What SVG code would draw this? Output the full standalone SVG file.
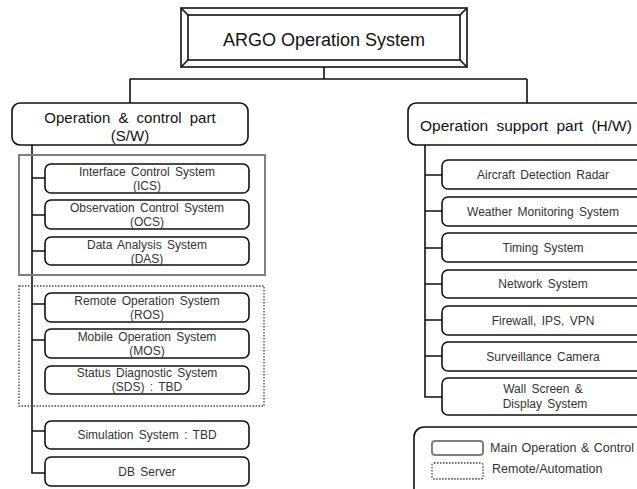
<svg xmlns="http://www.w3.org/2000/svg" width="637" height="489" viewBox="0 0 637 489">
<style>
text{font-family:"Liberation Sans",Arial,sans-serif;text-anchor:middle;dominant-baseline:central}
.hdr{font-size:15px;fill:#111;word-spacing:4px}
.hdr2{font-size:15.5px;fill:#111;word-spacing:4px}
.t{font-size:12px;fill:#333;word-spacing:2px}
.lg{font-size:12.5px;fill:#333;text-anchor:start;word-spacing:1px}
.box{fill:#fff;stroke:#111;stroke-width:1.6}
.c{stroke:#111;stroke-width:1.6;fill:none}
.grp{fill:none;stroke:#808080;stroke-width:2}
.dot{fill:none;stroke:#444;stroke-width:1.3;stroke-dasharray:1.5 1.5}
</style>
<rect width="637" height="489" fill="#fff"/>
<g id="connectors">
<path class="c" d="M324 67V79M130 79H527M130 79V103M527 79V103"/>
<path class="c" d="M32 145V473H45M32 178H45M32 215H45M32 251H45M32 304H45M32 340H45M32 431H45"/>
<path class="c" d="M425 145V397H442M425 175H442M425 211H442M425 248H442M425 284H442M425 320H442M425 356H442"/>
</g>
<g id="groups">
<rect class="grp" x="19" y="155" width="246" height="120"/>
<rect class="dot" x="19" y="286" width="245" height="120"/>
</g>
<g id="title">
<rect x="181" y="8" width="286" height="59" fill="#fff" stroke="#111" stroke-width="1.6"/>
<rect x="188" y="15" width="272" height="45" fill="#fff" stroke="#111" stroke-width="1.6"/>
<path class="c" d="M181 8L188 15M467 8L460 15M181 67L188 60M467 67L460 60"/>
<text x="324" y="40" style="font-size:18px;fill:#111">ARGO Operation System</text>
</g>
<g id="sw">
<rect class="box" x="12" y="103" width="236" height="42" rx="8"/>
<text class="hdr" x="130" y="117">Operation &amp; control part</text>
<text class="hdr" x="130" y="135">(S/W)</text>
</g>
<g id="ics"><rect class="box" x="45" y="164" width="204" height="29" rx="6"/><text class="t" x="147" y="172">Interface Control System</text><text class="t" x="147" y="186">(ICS)</text></g>
<g id="ocs"><rect class="box" x="45" y="200" width="204" height="29" rx="6"/><text class="t" x="147" y="208">Observation Control System</text><text class="t" x="147" y="222">(OCS)</text></g>
<g id="das"><rect class="box" x="45" y="237" width="204" height="28" rx="6"/><text class="t" x="147" y="245">Data Analysis System</text><text class="t" x="147" y="259">(DAS)</text></g>
<g id="ros"><rect class="box" x="45" y="293" width="204" height="29" rx="6"/><text class="t" x="147" y="301">Remote Operation System</text><text class="t" x="147" y="315">(ROS)</text></g>
<g id="mos"><rect class="box" x="45" y="329" width="204" height="29" rx="6"/><text class="t" x="147" y="337">Mobile Operation System</text><text class="t" x="147" y="351">(MOS)</text></g>
<g id="sds"><rect class="box" x="45" y="366" width="204" height="28" rx="6"/><text class="t" x="147" y="373">Status Diagnostic System</text><text class="t" x="147" y="387">(SDS) : TBD</text></g>
<g id="sim"><rect class="box" x="45" y="421" width="204" height="28" rx="6"/><text class="t" x="147" y="435">Simulation System : TBD</text></g>
<g id="db"><rect class="box" x="45" y="457" width="204" height="29" rx="6"/><text class="t" x="147" y="472">DB Server</text></g>
<g id="hw">
<rect class="box" x="408" y="103" width="240" height="42" rx="8"/>
<text class="hdr2" x="526" y="125">Operation support part (H/W)</text>
</g>
<g id="radar"><rect class="box" x="442" y="160" width="202" height="29" rx="6"/><text class="t" x="543" y="175">Aircraft Detection Radar</text></g>
<g id="weather"><rect class="box" x="442" y="197" width="202" height="29" rx="6"/><text class="t" x="543" y="212">Weather Monitoring System</text></g>
<g id="timing"><rect class="box" x="442" y="233" width="202" height="29" rx="6"/><text class="t" x="543" y="248">Timing System</text></g>
<g id="network"><rect class="box" x="442" y="270" width="202" height="28" rx="6"/><text class="t" x="543" y="284">Network System</text></g>
<g id="firewall"><rect class="box" x="442" y="306" width="202" height="29" rx="6"/><text class="t" x="543" y="321">Firewall, IPS, VPN</text></g>
<g id="camera"><rect class="box" x="442" y="342" width="202" height="29" rx="6"/><text class="t" x="543" y="357">Surveillance Camera</text></g>
<g id="wall"><rect class="box" x="442" y="378" width="202" height="37" rx="6"/><text class="t" x="543" y="389">Wall Screen &amp;</text><text class="t" x="545" y="404">Display System</text></g>
<g id="legend">
<rect x="414" y="427" width="240" height="80" rx="10" fill="#fff" stroke="#111" stroke-width="1.6"/>
<rect x="432" y="441" width="51" height="14" rx="3" fill="#fff" stroke="#808080" stroke-width="2"/>
<text class="lg" x="490" y="448">Main Operation &amp; Control</text>
<rect class="dot" x="432" y="463" width="51" height="16" rx="2"/>
<text class="lg" x="492" y="469">Remote/Automation</text>
</g>
</svg>
